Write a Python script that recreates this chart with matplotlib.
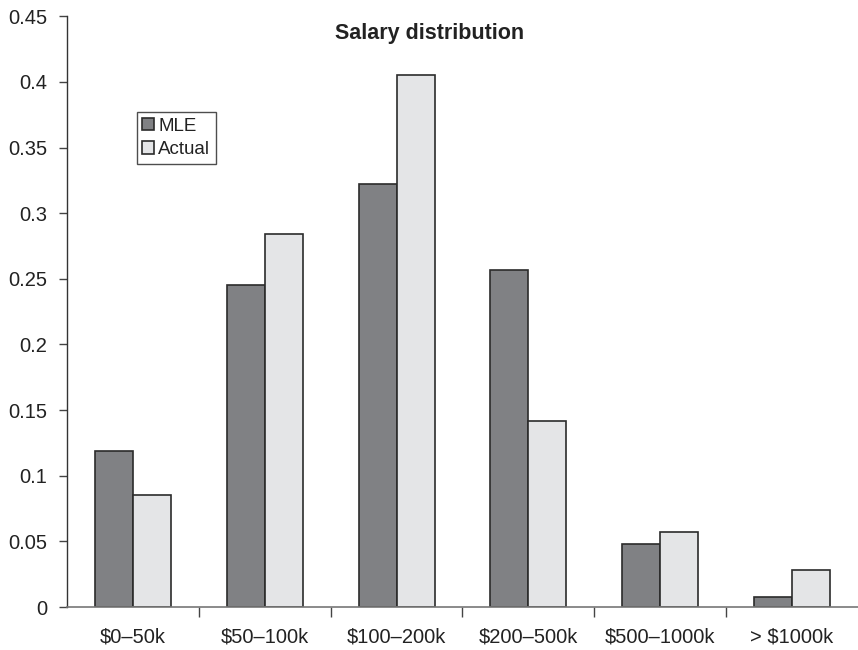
import numpy as np
import matplotlib
matplotlib.use("Agg")
import matplotlib.pyplot as plt

categories = ["$0\u201350k", "$50\u2013100k", "$100\u2013200k", "$200\u2013500k",
              "$500\u20131000k", "> $1000k"]
mle = [0.119, 0.245, 0.322, 0.257, 0.048, 0.0075]
actual = [0.085, 0.284, 0.405, 0.142, 0.057, 0.028]

plt.rcParams["font.family"] = ["Liberation Sans", "DejaVu Sans"]

fig = plt.figure(figsize=(8.58, 6.5), dpi=100)
ax = fig.add_axes([0.078, 0.066, 0.922, 0.909])

x = np.arange(len(categories))
w = 0.288
ax.bar(x - w / 2, mle, w, color="#808184", edgecolor="#2b2b2b",
       linewidth=1.2, label="MLE")
ax.bar(x + w / 2, actual, w, color="#e4e5e7", edgecolor="#2b2b2b",
       linewidth=1.2, label="Actual")

ax.set_xlim(-0.5, len(categories) - 0.5)
ax.set_ylim(0, 0.45)
ax.set_yticks(np.arange(0, 0.451, 0.05))
ax.set_yticklabels(["0", "0.05", "0.1", "0.15", "0.2", "0.25", "0.3",
                    "0.35", "0.4", "0.45"])
ax.set_xticks(x)
ax.set_xticklabels(categories)
ax.set_xticks(np.arange(0.5, len(categories) - 0.5, 1), minor=True)
ax.tick_params(axis="x", which="major", length=0, pad=15,
               labelsize=14.5, labelcolor="#222222")
ax.tick_params(axis="x", which="minor", length=7, direction="out",
               color="#444444", width=1)
ax.tick_params(axis="y", length=6, width=1, color="#444444",
               labelsize=14.5, labelcolor="#222222", pad=8)

for s in ["top", "right"]:
    ax.spines[s].set_visible(False)
ax.spines["left"].set_color("#333333")
ax.spines["bottom"].set_color("#777777")
ax.spines["left"].set_linewidth(1)
ax.spines["bottom"].set_linewidth(1.2)

fig.text(0.501, 0.948, "Salary distribution", ha="center", va="center",
         fontsize=15.5, fontweight="bold", color="#222222")

leg = ax.legend(loc="upper left", bbox_to_anchor=(0.088, 0.838),
                fontsize=13.5, frameon=True, fancybox=False,
                handlelength=0.65, handleheight=0.65, handletextpad=0.2,
                borderpad=0.3, labelspacing=0.35, borderaxespad=0)
leg.get_frame().set_edgecolor("#222222")
leg.get_frame().set_linewidth(1)
for t in leg.get_texts():
    t.set_color("#222222")

fig.savefig("out.png", dpi=100)
